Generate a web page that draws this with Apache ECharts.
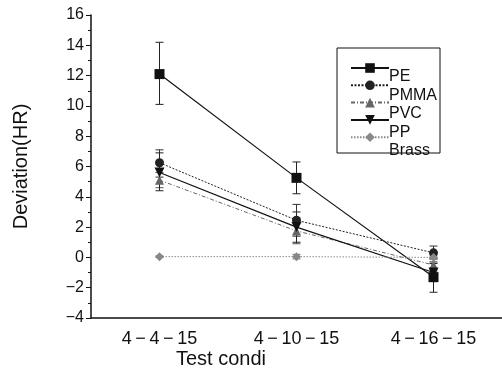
<!DOCTYPE html>
<html><head><meta charset="utf-8">
<script src="https://cdn.jsdelivr.net/npm/echarts@6/dist/echarts.min.js"></script>
<style>html,body{margin:0;padding:0;background:#fff}#c{width:502px;height:371px}</style>
</head><body><div id="c"></div>
<script>
var categories = ['4-4-15', '4-10-15', '4-16-15'];
var seriesNames = ['PE', 'PMMA', 'PVC', 'PP', 'Brass'];
var legendLabels = ['PE', 'PMMA', 'PVC', 'PP', 'Brass'];
var yTicks = [-4, -2, 0, 2, 4, 6, 8, 10, 12, 14, 16];

var valsSquare = [12.1, 5.25, -1.3];
var errSquare = [[10.1, 14.2], [4.2, 6.3], [-2.3, -0.3]];
var valsCircle = [6.25, 2.45, 0.3];
var errCircle = [[5.3, 7.1], [1.4, 3.5], [-0.1, 0.75]];
var valsTriangle = [5.1, 1.75, -0.5];
var errTriangle = [[4.6, 5.6], [0.9, 2.6], [-0.9, -0.1]];
var valsInvTriangle = [5.6, 2.0, -1.0];
var errInvTriangle = [[4.4, 6.9], [1.0, 3.0], [-1.6, -0.4]];
var valsDiamond = [0.05, 0.05, 0.0];
var errDiamond = [[0.0, 0.1], [-0.1, 0.2], [-0.1, 0.1]];

var FONT = "'Liberation Sans', Arial, sans-serif";
var chart = echarts.init(document.getElementById('c'), null, {renderer: 'canvas'});

function lineSeries(name, data, symbol, size, color, lineType, rotate, width) {
  return {
    name: name, type: 'line', data: data, symbol: symbol, symbolSize: size,
    symbolRotate: rotate || 0, showAllSymbol: true,
    itemStyle: {color: color},
    lineStyle: {color: color, width: width || 1, type: lineType},
    z: 3, animation: false
  };
}
function errSeries(err, color) {
  return {
    type: 'custom', data: err.map(function (e, i) { return [i, e[0], e[1]]; }),
    renderItem: function (params, api) {
      var lo = api.coord([api.value(0), api.value(1)]);
      var hi = api.coord([api.value(0), api.value(2)]);
      var w = 4;
      var st = {stroke: color, lineWidth: 1};
      return {type: 'group', children: [
        {type: 'line', shape: {x1: lo[0], y1: lo[1], x2: hi[0], y2: hi[1]}, style: st},
        {type: 'line', shape: {x1: lo[0] - w, y1: lo[1], x2: lo[0] + w, y2: lo[1]}, style: st},
        {type: 'line', shape: {x1: hi[0] - w, y1: hi[1], x2: hi[0] + w, y2: hi[1]}, style: st}
      ]};
    },
    z: 2, animation: false, silent: true
  };
}

var labelGraphics = legendLabels.map(function (t, i) {
  var ys = [69, 88, 106, 125, 143];
  return {type: 'text', left: 389, top: ys[i],
    style: {text: t, font: '16px ' + FONT, fill: '#111'}, z: 10};
});

chart.setOption({
  animation: false,
  textStyle: {fontFamily: FONT},
  grid: {left: 91, right: -3, top: 15, bottom: 53, containLabel: false},
  title: {text: 'Test condi', left: 171, top: 344,
    textStyle: {fontFamily: FONT, fontSize: 20, fontWeight: 'normal', color: '#111'}},
  legend: {
    orient: 'vertical', left: 345, top: 57, itemWidth: 38, itemHeight: 12, itemGap: 6.5,
    data: seriesNames, formatter: function () { return ''; }, selectedMode: false,
    textStyle: {fontSize: 1}
  },
  graphic: [
    {type: 'rect', shape: {x: 337, y: 48, width: 103, height: 105},
      style: {fill: 'none', stroke: '#111', lineWidth: 1}, z: 5}
  ].concat(labelGraphics),
  xAxis: {
    type: 'category', data: categories, boundaryGap: true,
    axisLine: {onZero: false, lineStyle: {color: '#111', width: 1.5}},
    axisTick: {alignWithLabel: true, length: 6, lineStyle: {color: '#111'}},
    axisLabel: {color: '#111', fontSize: 18, margin: 12, fontFamily: FONT,
      formatter: function (v) { return v.replace(/-/g, '\u2009\u2212\u2009'); }}
  },
  yAxis: {
    type: 'value', min: yTicks[0], max: yTicks[yTicks.length - 1], interval: 2,
    name: 'Deviation(HR)', nameLocation: 'middle', nameGap: 60,
    nameTextStyle: {fontSize: 20, color: '#111', fontFamily: FONT},
    axisLine: {show: true, lineStyle: {color: '#111', width: 1.5}},
    axisTick: {show: true, length: 5, lineStyle: {color: '#111'}},
    minorTick: {show: true, splitNumber: 2, length: 3, lineStyle: {color: '#111'}},
    splitLine: {show: false},
    axisLabel: {color: '#111', fontSize: 16, margin: 7, fontFamily: FONT,
      formatter: function (v) { return String(v).replace('-', '\u2212'); }}
  },
  series: [
    lineSeries(seriesNames[0], valsSquare, 'rect', 10, '#111', 'solid', 0, 1.2),
    lineSeries(seriesNames[1], valsCircle, 'circle', 9, '#222', [2, 1.5], 0, 1),
    lineSeries(seriesNames[2], valsTriangle, 'triangle', 9, '#666', [4, 2, 1, 2], 0, 1),
    lineSeries(seriesNames[3], valsInvTriangle, 'triangle', 10, '#111', 'solid', 180, 1.2),
    lineSeries(seriesNames[4], valsDiamond, 'diamond', 9, '#888', [1.5, 1.5], 0, 1),
    errSeries(errSquare, '#222'),
    errSeries(errCircle, '#333'),
    errSeries(errTriangle, '#555'),
    errSeries(errInvTriangle, '#222'),
    errSeries(errDiamond, '#777')
  ]
});
</script></body></html>
